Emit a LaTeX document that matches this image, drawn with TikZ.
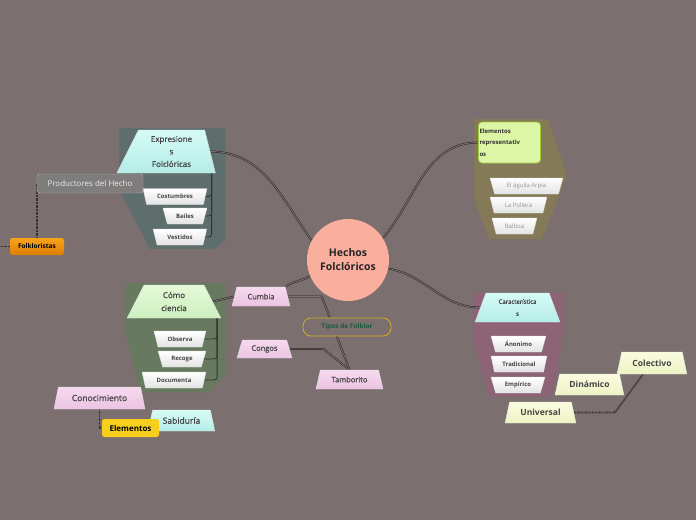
\documentclass[tikz,border=0pt]{standalone}
\usepackage{fontspec}
\setmainfont{Open Sans}
\newfontfamily\medium[FakeBold=0.7]{Open Sans}
\usetikzlibrary{shapes.geometric}
\definecolor{canvas}{HTML}{7B6F6F}
\definecolor{slateGrp}{HTML}{5E6E6C}
\definecolor{oliveGrp}{HTML}{857A57}
\definecolor{mauveGrp}{HTML}{8C6476}
\definecolor{mossGrp}{HTML}{677A5F}
\definecolor{cyanTop}{HTML}{D6FBF6}
\definecolor{cyanBot}{HTML}{B5ECE6}
\definecolor{pinkTop}{HTML}{F6DAEF}
\definecolor{pinkBot}{HTML}{EBC3E1}
\definecolor{mintTop}{HTML}{E4FAD8}
\definecolor{mintBot}{HTML}{CDEFBF}
\definecolor{creamTop}{HTML}{FAFCE0}
\definecolor{creamBot}{HTML}{EEF3C4}
\definecolor{salmon}{HTML}{F9AE9E}
\definecolor{limeFill}{HTML}{DDF6A6}
\definecolor{limeLine}{HTML}{9DCB3C}
\definecolor{goldLine}{HTML}{D6AE22}
\definecolor{pineText}{HTML}{1F5B3E}
\definecolor{orangeTop}{HTML}{F7A21B}
\definecolor{orangeBot}{HTML}{DE7E06}
\definecolor{yellowFill}{HTML}{F7CF1C}
\definecolor{ink}{HTML}{444444}
\pgfdeclarelayer{groups}
\pgfdeclarelayer{links}
\pgfsetlayers{groups,links,main}

\begin{document}
\begin{tikzpicture}[x=1pt,y=-1pt,
  topic/.style={trapezium,trapezium left angle=70,trapezium right angle=70,trapezium stretches=true,
    draw=white!75!gray,line width=.4pt,inner sep=1pt,align=center,text=ink},
  cyantopic/.style={topic,top color=cyanTop,bottom color=cyanBot},
  pinktopic/.style={topic,top color=pinkTop,bottom color=pinkBot,font=\fontsize{7.5}{9}\selectfont\medium},
  creamtopic/.style={topic,top color=creamTop,bottom color=creamBot,font=\fontsize{8.5}{10}\selectfont\bfseries},
  leaf/.style={topic,shape border rotate=180,top color=white,bottom color=gray!22,minimum height=16pt,
    font=\fontsize{6}{7}\selectfont\bfseries},
  paleleaf/.style={leaf,text=gray!85,font=\fontsize{6}{7}\selectfont},
  tag/.style={rounded corners=2.5pt,inner sep=1pt,font=\fontsize{6.5}{8}\selectfont\bfseries},
  link/.style={draw=black!85,line width=.5pt,double=canvas,double distance=.9pt},
  sublink/.style={draw=black!80,line width=.8pt,rounded corners=3pt},
  dotlink/.style={draw=black!80,line width=1.8pt,dash pattern=on .7pt off .7pt}]
\useasboundingbox (0,0) rectangle (696,520);

\begin{pgfonlayer}{groups}
\fill[canvas] (0,0) rectangle (696,520);
\fill[slateGrp] (119,128) -- (225,128) -- (225,240) -- (214,249) -- (150,249) -- (119,190) -- cycle;
\fill[oliveGrp] (474,119) -- (548,119) -- (567,175) -- (542,239) -- (489,239) -- (474,200) -- cycle;
\fill[mauveGrp] (473,293) -- (563,293) -- (563,335) -- (552,397) -- (488,397) -- (473,335) -- cycle;
\fill[mossGrp] (126,283) -- (225,283) -- (225,375) -- (210,392) -- (140,392) -- (126,333) -- cycle;
\end{pgfonlayer}

% centro
\node[circle,fill=salmon,minimum size=82pt,align=center,text=black!85,
  font=\fontsize{10.5}{14}\selectfont\bfseries] (center) at (348,260) {Hechos\\Folclóricos};

% expresiones
\node[cyantopic,trapezium left angle=67,trapezium right angle=78,minimum width=99pt,minimum height=43pt,
  font=\fontsize{8}{12.5}\selectfont\medium] (expr) at (171.5,151.5) {Expresione\\s\\Folclóricas};
\node[leaf,minimum width=64pt] (costumbres) at (175,196.5) {Costumbres};
\node[leaf,minimum width=44pt] (bailes) at (185,216) {Bailes};
\node[leaf,minimum width=54pt] (vestidos) at (180,237) {Vestidos};
\node[tag,fill=gray!80!canvas,draw=gray!60,line width=.4pt,text=white!92!black,minimum width=106pt,minimum height=19pt,
  font=\fontsize{8}{9}\selectfont] (productores) at (90,183.5) {Productores del Hecho};
\node[tag,top color=orangeTop,bottom color=orangeBot,text=black,minimum width=54pt,minimum height=17pt] (folkloristas) at (37,246.5) {Folkloristas};
\coordinate (fkend) at (0,246.5);

% elementos representativos
\node[tag,fill=limeFill,draw=limeLine,line width=.8pt,rounded corners=3.5pt,align=left,text width=60pt,minimum height=41pt,
  text=black!80,font=\fontsize{6}{11.5}\selectfont\bfseries] (elemrep) at (509.5,142.5) {Elementos\\representativ\\os};
\node[paleleaf,minimum width=73pt] (aguila) at (526.5,186) {El águila Arpía};
\node[paleleaf,minimum width=57pt] (pollera) at (518.5,205) {La Pollera};
\node[paleleaf,minimum width=45pt] (balboa) at (514.5,226) {Balboa};

% caracteristicas
\node[cyantopic,minimum width=85pt,minimum height=29pt,font=\fontsize{6}{12}\selectfont\medium] (caract) at (517.5,307.5) {Característica\\s};
\node[leaf,minimum width=55pt] (anonimo) at (518.5,344) {Ánonimo};
\node[leaf,minimum width=56pt] (tradicional) at (519,364) {Tradicional};
\node[leaf,minimum width=54pt] (empirico) at (518,385) {Empírico};

% como ciencia
\node[topic,top color=mintTop,bottom color=mintBot,minimum width=94pt,minimum height=33pt,
  font=\fontsize{8}{13}\selectfont\medium] (ciencia) at (174,301.5) {Cómo\\ciencia};
\node[leaf,minimum width=52pt] (observa) at (180,339) {Observa};
\node[leaf,minimum width=48pt] (recoge) at (182,359) {Recoge};
\node[leaf,minimum width=64pt] (documenta) at (174,380) {Documenta};

% tipos
\node[pinktopic,minimum width=58pt,minimum height=19pt] (cumbia) at (261,296.5) {Cumbia};
\node[pinktopic,minimum width=55pt,minimum height=18pt] (congos) at (264.5,349) {Congos};
\node[pinktopic,minimum width=67pt,minimum height=19pt] (tamborito) at (349.5,379.5) {Tamborito};
\node[tag,draw=goldLine,line width=.8pt,fill=canvas,rounded corners=8pt,text=pineText,minimum width=88pt,minimum height=18pt]
  (tipos) at (347,327) {Tipos de Folklor};

% conocimiento
\node[pinktopic,minimum width=91pt,minimum height=22pt,font=\fontsize{8.5}{10}\selectfont\medium] (conocimiento) at (99.5,398) {Conocimiento};
\node[cyantopic,minimum width=67pt,minimum height=21pt,font=\fontsize{8.5}{10}\selectfont\medium] (sabiduria) at (181.5,420.5) {Sabiduría};
\node[tag,fill=yellowFill,text=black,minimum width=57pt,minimum height=18pt,font=\fontsize{8}{9}\selectfont\bfseries]
  (elementos) at (130.5,428) {Elementos};

% universal
\node[creamtopic,minimum width=71pt,minimum height=21pt] (universal) at (540.5,412.5) {Universal};
\node[creamtopic,minimum width=69pt,minimum height=21pt] (dinamico) at (589.5,384.5) {Dinámico};
\node[creamtopic,minimum width=70pt,minimum height=22pt] (colectivo) at (652,363) {Colectivo};

\begin{pgfonlayer}{links}
\draw[link] (expr.east) to[out=0,in=125] (center.152);
\draw[link] (center.32) to[out=50,in=180] (elemrep.west);
\draw[link] (center.-12) to[out=-10,in=180] (caract.west);
\draw[link] (center.203) to[out=210,in=35] (cumbia.top right corner);
\draw[link] (ciencia.east) -- (cumbia.west);
\draw[link] (cumbia.east) -- ++(34,0) -- (tamborito.north);
\draw[link] (congos.east) -- ++(34,0) -- (tamborito.north);
\draw[sublink] ([xshift=-4pt]expr.bottom right corner) |- (costumbres.east);
\draw[sublink] ([xshift=-4pt]expr.bottom right corner) |- (bailes.east);
\draw[sublink] ([xshift=-4pt]expr.bottom right corner) |- (vestidos.east);
\draw[sublink] ([xshift=-4pt]ciencia.bottom right corner) |- (observa.east);
\draw[sublink] ([xshift=-4pt]ciencia.bottom right corner) |- (recoge.east);
\draw[sublink] ([xshift=-4pt]ciencia.bottom right corner) |- (documenta.east);
\draw[dotlink] (productores.west) -- (productores.west |- folkloristas.north);
\draw[dotlink] (folkloristas.west) -- (fkend);
\draw[dotlink] (conocimiento.south) |- (elementos.west);
\draw[dotlink] (universal.east) -- ++(41,0) -- ([xshift=-9pt]colectivo.south);
\end{pgfonlayer}
\end{tikzpicture}
\end{document}
